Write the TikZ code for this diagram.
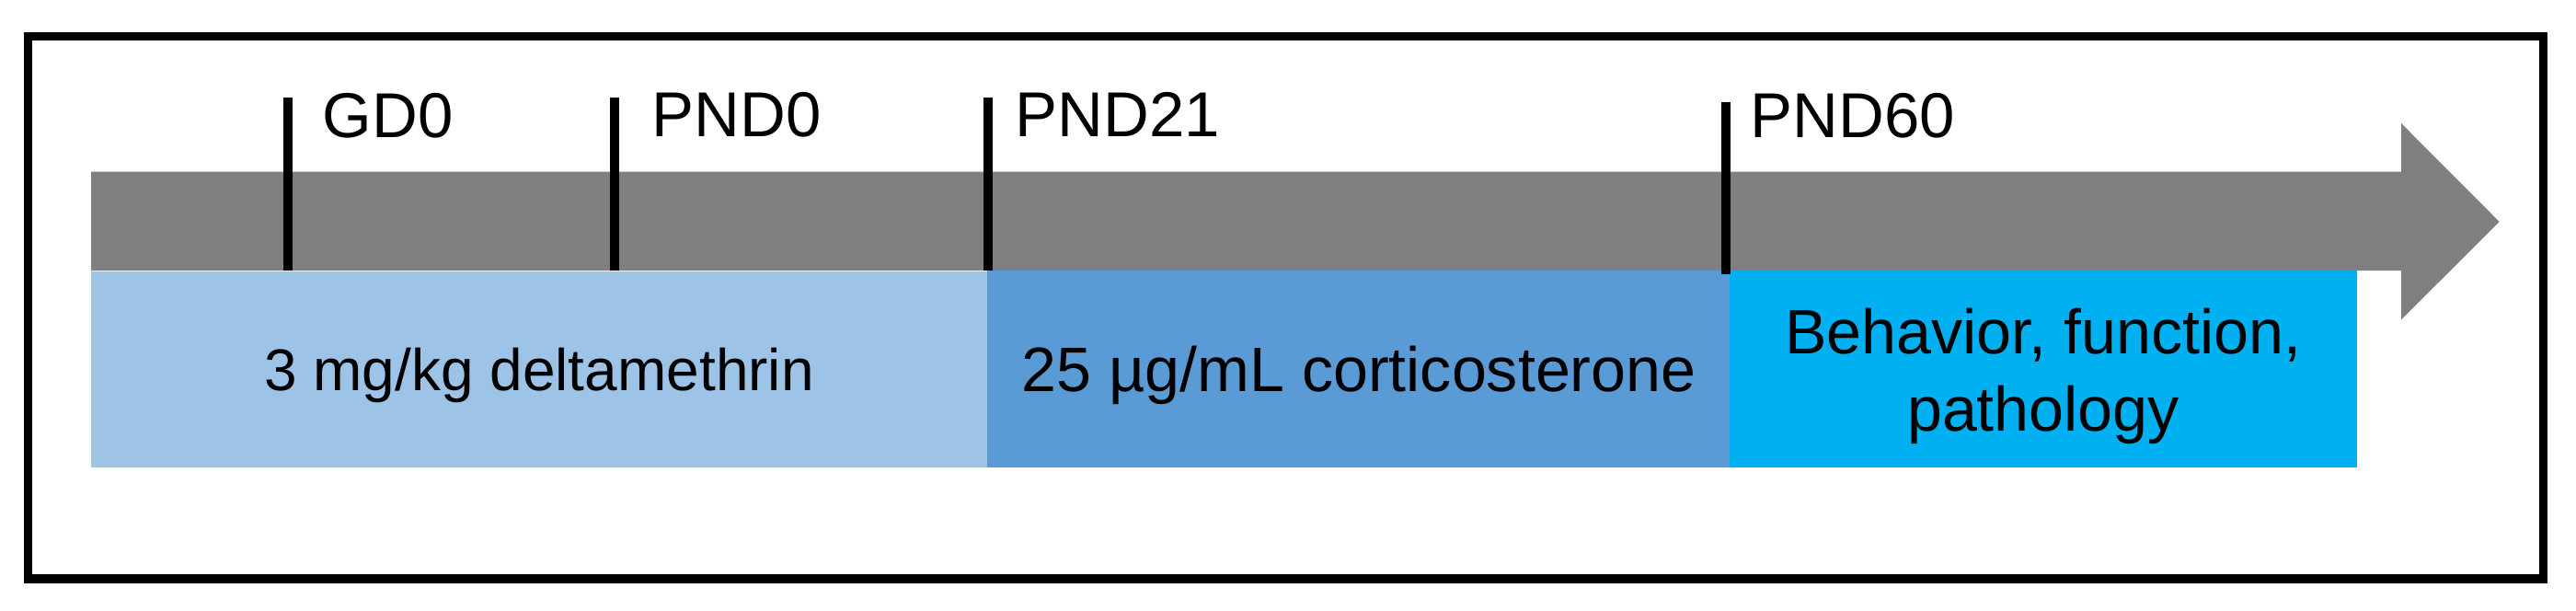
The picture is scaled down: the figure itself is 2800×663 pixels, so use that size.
\documentclass[tikz,border=0pt]{standalone}
\usepackage{fontspec}
\setmainfont{Liberation Sans}
\definecolor{arrowgray}{HTML}{7F7F7F}
\definecolor{lightblue}{HTML}{9DC3E6}
\definecolor{midblue}{HTML}{5B9BD5}
\definecolor{cyanblue}{HTML}{00B0F0}
\tikzset{
  tickline/.style={line width=10*0.01cm, black},
  ticklabel/.style={anchor=base west, inner sep=0pt, font=\fontsize{19.6pt}{23.5pt}\selectfont},
  boxlabel/.style={anchor=base, inner sep=0pt, font=\fontsize{19.4pt}{23.9pt}\selectfont, align=center},
}
\begin{document}
\begin{tikzpicture}[x=0.01cm, y=-0.01cm]
\useasboundingbox (0,0) rectangle (2800,663);
% outer frame
\draw[line width=9.5*0.01cm] (30.5,39.7) rectangle (2764.5,629);
% timeline arrow
\fill[arrowgray] (99,186.7) -- (2610,186.7) -- (2610,134) -- (2716.7,241) -- (2610,347.3) -- (2610,294) -- (99,294) -- cycle;
% phase boxes
\fill[lightblue] (99,295) rectangle (1073,507.6);
\fill[midblue] (1073,294) rectangle (1880,507.6);
\fill[cyanblue] (1880,294) rectangle (2562,507.6);
\coordinate (b1) at (586,424);
\coordinate (b2) at (1477,425.7);
\coordinate (b3) at (2221,468.3);
\node[boxlabel, font=\fontsize{18.2pt}{22pt}\selectfont] (t1) at (b1) {3 mg/kg deltamethrin};
\node[boxlabel] (t2) at (b2) {25 µg/mL corticosterone};
\node[boxlabel] (t3) at (b3) {Behavior, function,\\pathology};
% ticks
\coordinate (g0a) at (313.3,106); \coordinate (g0b) at (313.3,294);
\coordinate (p0a) at (668.3,106); \coordinate (p0b) at (668.3,294);
\coordinate (p21a) at (1074,106); \coordinate (p21b) at (1074,294);
\coordinate (p60a) at (1876,111); \coordinate (p60b) at (1876,298);
\draw[tickline] (g0a) -- (g0b);
\draw[tickline] (p0a) -- (p0b);
\draw[tickline] (p21a) -- (p21b);
\draw[tickline] (p60a) -- (p60b);
\node[ticklabel] (lg0) at (350,149.3) {GD0};
\node[ticklabel] (lp0) at (708,148.3) {PND0};
\node[ticklabel] (lp21) at (1103,148.3) {PND21};
\node[ticklabel] (lp60) at (1902,149.3) {PND60};
\end{tikzpicture}
\end{document}
